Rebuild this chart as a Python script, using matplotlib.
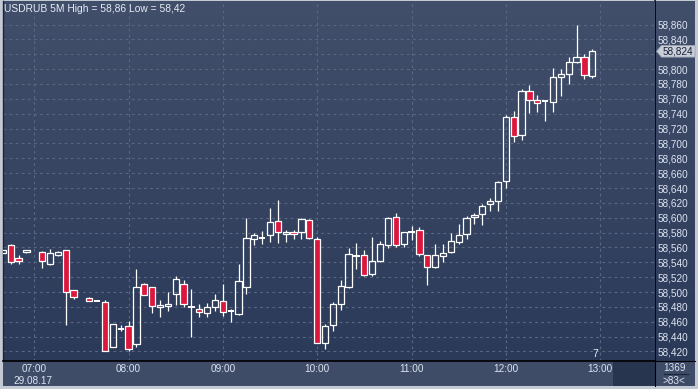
import numpy as np
import matplotlib
matplotlib.use('Agg')
import matplotlib.pyplot as plt
from matplotlib.patches import Rectangle, Polygon
from matplotlib.colors import LinearSegmentedColormap

nan = np.nan
# ---- data (5-minute candles, index 0..75) ----
opens = [58.553, 58.563, 58.546, 58.554, nan, 58.554, 58.538, 58.550, 58.556, 58.503,
         nan, 58.492, 58.488, 58.486, 58.426, 58.450, 58.454, 58.430, 58.511, 58.507,
         58.480, 58.481, 58.497, 58.511, 58.480, 58.477, 58.472, 58.480, 58.488, 58.475,
         58.471, 58.507, 58.571, 58.573, 58.577, 58.596, 58.578, 58.581, 58.581, 58.597,
         58.571, 58.432, 58.455, 58.484, 58.507, 58.549, 58.550, 58.524, 58.542, 58.563,
         58.601, 58.564, 58.581, 58.584, 58.550, 58.534, 58.548, 58.554, 58.567, 58.578,
         58.601, 58.605, 58.619, 58.622, 58.649, 58.736, 58.712, 58.770, 58.759, 58.757,
         58.756, 58.789, 58.794, 58.810, 58.816, 58.791]
highs = [58.557, 58.565, 58.550, 58.556, nan, 58.555, 58.558, 58.555, 58.557, 58.503,
         nan, 58.493, 58.488, 58.489, 58.457, 58.455, 58.461, 58.531, 58.512, 58.507,
         58.489, 58.500, 58.521, 58.516, 58.504, 58.484, 58.485, 58.497, 58.511, 58.477,
         58.538, 58.600, 58.580, 58.582, 58.613, 58.624, 58.583, 58.583, 58.600, 58.598,
         58.574, 58.457, 58.486, 58.516, 58.559, 58.566, 58.556, 58.574, 58.569, 58.601,
         58.606, 58.581, 58.589, 58.588, 58.550, 58.565, 58.565, 58.579, 58.592, 58.602,
         58.606, 58.619, 58.627, 58.650, 58.738, 58.743, 58.773, 58.778, 58.765, 58.759,
         58.801, 58.800, 58.816, 58.860, 58.820, 58.827]
lows = [58.552, 58.538, 58.538, 58.552, nan, 58.533, 58.537, 58.549, 58.456, 58.491,
        nan, 58.488, 58.488, 58.420, 58.426, 58.448, 58.420, 58.426, 58.496, 58.472,
        58.467, 58.475, 58.483, 58.480, 58.440, 58.466, 58.466, 58.474, 58.468, 58.460,
        58.469, 58.498, 58.563, 58.565, 58.568, 58.566, 58.568, 58.572, 58.572, 58.572,
        58.431, 58.423, 58.448, 58.476, 58.505, 58.531, 58.522, 58.521, 58.541, 58.559,
        58.560, 58.561, 58.570, 58.549, 58.509, 58.533, 58.540, 58.553, 58.565, 58.571,
        58.591, 58.590, 58.609, 58.609, 58.640, 58.702, 58.704, 58.741, 58.742, 58.730,
        58.742, 58.764, 58.780, 58.808, 58.787, 58.788]
closes = [58.556, 58.540, 58.542, 58.556, nan, 58.542, 58.552, 58.554, 58.500, 58.493,
          nan, 58.488, 58.488, 58.420, 58.457, 58.450, 58.424, 58.507, 58.496, 58.481,
          58.482, 58.484, 58.517, 58.484, 58.480, 58.473, 58.480, 58.489, 58.473, 58.475,
          58.515, 58.573, 58.577, 58.573, 58.594, 58.581, 58.581, 58.578, 58.598, 58.573,
          58.431, 58.454, 58.484, 58.508, 58.551, 58.549, 58.523, 58.542, 58.565, 58.600,
          58.563, 58.581, 58.581, 58.551, 58.534, 58.550, 58.552, 58.569, 58.577, 58.600,
          58.604, 58.616, 58.623, 58.648, 58.735, 58.710, 58.771, 58.758, 58.754, 58.757,
          58.789, 58.793, 58.809, 58.816, 58.792, 58.824]

hour_index = [4, 16, 28, 40, 52, 64, 76]
hour_labels = ['07:00', '08:00', '09:00', '10:00', '11:00', '12:00', '13:00']
date_label = '29.08.17'
price_ticks = [round(58.42 + 0.02 * i, 2) for i in range(23)]
title = 'USDRUB 5M High = 58,86 Low = 58,42'
last_price = 58.824
count_text = '1369'
zoom_text = '>83<'

# ---- layout ----
W, H = 698, 389
fig = plt.figure(figsize=(W / 100, H / 100), dpi=100)
fig.patch.set_facecolor('#c4cad4')

def px_axes(x0, y0, x1, y1):
    return fig.add_axes([x0 / W, 1 - y1 / H, (x1 - x0) / W, (y1 - y0) / H])

XMIN, XMAX = 0.025, 82.98
YMIN, YMAX = 58.4072, 58.8917

grad = LinearSegmentedColormap.from_list('bg', ['#424f6b', '#2b3a59'])
gvals = np.linspace(0, 1, 256).reshape(-1, 1)

# right price panel
axr = px_axes(655, 1, 695, 361)
axr.imshow(gvals, cmap=grad, extent=(0, 1, 0, 1), transform=axr.transAxes,
           aspect='auto', zorder=0)
axr.set_xticks([]); axr.set_yticks([])
for s in axr.spines.values():
    s.set_visible(False)
axr.spines['left'].set_visible(True)
axr.spines['left'].set_color('#000000')
axr.spines['left'].set_linewidth(1.2)

# main chart
ax = px_axes(3, 1, 655, 361)
ax.imshow(gvals, cmap=grad, extent=(0, 1, 0, 1), transform=ax.transAxes,
          aspect='auto', zorder=0)
ax.set_xlim(XMIN, XMAX)
ax.set_ylim(YMIN, YMAX)
for name, s in ax.spines.items():
    s.set_visible(False)
ax.spines['left'].set_visible(True)
ax.spines['left'].set_color('#1c2438')
ax.spines['left'].set_linewidth(1.0)

grid_c = '#5a6783'
for p in price_ticks:
    ax.axhline(p, color=grid_c, lw=0.8, ls=(0, (2.5, 3)), zorder=1)
for h in hour_index:
    ax.axvline(h, color=grid_c, lw=0.8, ls=(0, (2.5, 3)), zorder=1)

# tick labels; the one hidden behind the last-price marker is left blank
tick_text = []
for p in price_ticks:
    if abs(p - last_price) < 0.008:
        tick_text.append('')
    else:
        tick_text.append(f'{p:.3f}'.replace('.', ','))
ax.yaxis.tick_right()
ax.set_yticks(price_ticks)
ax.set_yticklabels(tick_text)
ax.tick_params(axis='y', length=0, pad=2.2, labelsize=7.2, labelcolor='#dde4f2')
for lbl in ax.get_yticklabels():
    lbl.set_fontfamily('Liberation Sans')
ax.set_xticks([])

red = '#dc163c'
bw = 0.8
lw = 0.9
for k in range(len(opens)):
    o, h, l, c = opens[k], highs[k], lows[k], closes[k]
    if np.isnan(o):
        continue
    top, bot = max(o, c), min(o, c)
    ax.vlines(k, top, h, color='white', lw=lw, zorder=3)
    ax.vlines(k, l, bot, color='white', lw=lw, zorder=3)
    if abs(c - o) < 1e-9:
        ax.hlines(o, k - bw / 2, k + bw / 2, color='white', lw=1.4, zorder=4)
    else:
        fc = red if c < o else 'none'
        ax.add_patch(Rectangle((k - bw / 2, bot), bw, top - bot, facecolor=fc,
                               edgecolor='white', lw=lw, zorder=4))

ax.text(0.0015, 0.979, title, transform=ax.transAxes, color='#e6ebf5',
        fontsize=7.4, family='Liberation Sans', va='center', ha='left', zorder=6)
ax.text(75.4, YMIN + 0.003, '7', color='#e6ebf5', fontsize=7.4,
        family='Liberation Sans', va='bottom', ha='center', zorder=6)

# last price marker (overlay axes drawn above the main chart)
axm = px_axes(655, 1, 695, 361)
axm.patch.set_visible(False)
axm.set_xlim(0, 1)
axm.set_ylim(YMIN, YMAX)
axm.set_xticks([]); axm.set_yticks([])
for s in axm.spines.values():
    s.set_visible(False)
hh = 0.0078
axm.add_patch(Polygon([(0.04, last_price), (0.16, last_price + hh), (1.0, last_price + hh),
                       (1.0, last_price - hh), (0.16, last_price - hh)], closed=True,
                      facecolor='#c9ced8', edgecolor='#9aa2b2',
                      lw=0.6, zorder=5, clip_on=False))
axm.text(0.57, last_price, f'{last_price:.3f}'.replace('.', ','),
         ha='center', va='center', fontsize=7.2, family='Liberation Sans',
         color='#1a2238', zorder=6)

# time axis strip
axt = px_axes(3, 361, 655, 386)
axt.set_facecolor('#3e4c68')
axt.set_xlim(XMIN, XMAX)
axt.set_ylim(0, 1)
axt.set_xticks([]); axt.set_yticks([])
for name, s in axt.spines.items():
    s.set_visible(False)
axt.spines['top'].set_visible(True)
axt.spines['top'].set_color('#000000')
axt.spines['top'].set_linewidth(1.2)
axt.add_patch(Rectangle((0.9356, 0), 1 - 0.9356, 1, transform=axt.transAxes,
                        facecolor='#28354f', edgecolor='none', zorder=1))
for h, lab in zip(hour_index, hour_labels):
    axt.text(h, 0.70, lab, ha='center', va='center', fontsize=7.2,
             family='Liberation Sans', color='#dde4f2', zorder=3)
axt.text(hour_index[0] - 0.15, 0.22, date_label, ha='center', va='center', fontsize=7.2,
         family='Liberation Sans', color='#dde4f2', zorder=3)

# bottom-right info box
axb = px_axes(655, 361, 695, 386)
axb.set_facecolor('#3e4c68')
axb.set_xlim(0, 1); axb.set_ylim(0, 1)
axb.set_xticks([]); axb.set_yticks([])
for name, s in axb.spines.items():
    s.set_visible(False)
axb.spines['top'].set_visible(True)
axb.spines['top'].set_color('#000000')
axb.spines['left'].set_visible(True)
axb.spines['left'].set_color('#000000')
axb.text(0.5, 0.72, count_text, ha='center', va='center', fontsize=7.2,
         family='Liberation Sans', color='#dde4f2')
axb.plot([0.22, 0.82], [0.47, 0.47], color='#1c2438', lw=0.8)
axb.text(0.47, 0.22, zoom_text, ha='center', va='center', fontsize=7.2,
         family='Liberation Sans', color='#dde4f2')

fig.savefig('out.png', dpi=100, facecolor=fig.get_facecolor())
